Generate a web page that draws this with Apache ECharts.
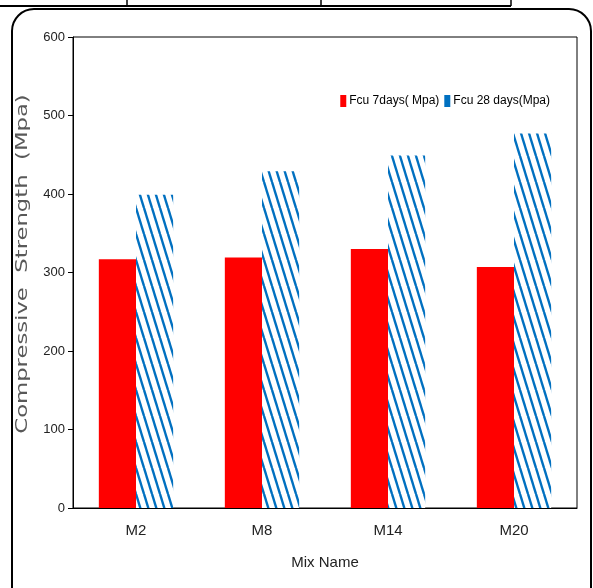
<!DOCTYPE html>
<html><head><meta charset="utf-8">
<script src="https://cdn.jsdelivr.net/npm/echarts@6/dist/echarts.min.js"></script>
<style>html,body{margin:0;padding:0;background:#fff}#c{width:593px;height:588px}</style>
</head><body><div id="c"></div>
<script>
var categories = ['M2', 'M8', 'M14', 'M20'];
var fcu7 = [317, 319, 330, 307];
var fcu28 = [399, 429, 449, 477];
var seriesNames = ['Fcu 7days( Mpa)', 'Fcu 28 days(Mpa)'];
var yTitle = 'Compressive  Strength  (Mpa)';
var xTitle = 'Mix Name';

function stripePattern() {
  var w = 8, h = 26;
  var cv = document.createElement('canvas');
  cv.width = w; cv.height = h;
  var ctx = cv.getContext('2d');
  ctx.fillStyle = '#ffffff';
  ctx.fillRect(0, 0, w, h);
  ctx.strokeStyle = '#0070C0';
  ctx.lineWidth = 2.4;
  for (var k = -1; k <= 1; k++) {
    ctx.beginPath();
    ctx.moveTo(k * w, 0);
    ctx.lineTo(k * w + w, h);
    ctx.stroke();
  }
  return cv;
}
var pat = stripePattern();
var narrow = "'Liberation Sans Narrow', 'Arial Narrow', 'Liberation Sans', sans-serif";

var chart = echarts.init(document.getElementById('c'));
chart.setOption({
  animation: false,
  grid: { left: 73, right: 16, top: 37, bottom: 80, show: true, borderColor: '#000', borderWidth: 1 },
  legend: {
    top: 90, right: 38, itemWidth: 6, itemHeight: 12, itemGap: 5,
    textStyle: { fontFamily: narrow, fontSize: 12, color: '#000', padding: [0, 0, 0, -2] },
    data: [
      { name: seriesNames[0], icon: 'rect' },
      { name: seriesNames[1], icon: 'rect', itemStyle: { color: '#0070C0' } }
    ]
  },
  xAxis: {
    type: 'category', data: categories,
    name: xTitle, nameLocation: 'middle', nameGap: 47,
    nameTextStyle: { fontFamily: narrow, fontSize: 15, color: '#222' },
    axisLine: { lineStyle: { color: '#000' } },
    axisTick: { show: false },
    axisLabel: { fontFamily: narrow, fontSize: 15, color: '#222', margin: 15 }
  },
  yAxis: {
    type: 'value', min: 0, max: 600, interval: 100,
    axisLine: { show: true, lineStyle: { color: '#000' } },
    axisTick: { show: true, length: 5, lineStyle: { color: '#000' } },
    axisLabel: { fontFamily: narrow, fontSize: 13, color: '#222', margin: 8 },
    splitLine: { show: false }
  },
  series: [
    { name: seriesNames[0], type: 'bar', data: fcu7, barWidth: '29.5%', barGap: '0%',
      itemStyle: { color: '#FF0000' } },
    { name: seriesNames[1], type: 'bar', data: fcu28, barWidth: '29.5%', barGap: '0%',
      itemStyle: { color: { image: pat, repeat: 'repeat' } } }
  ],
  graphic: [
    { type: 'text', x: 23, y: 264, rotation: Math.PI / 2, scaleX: 1.42,
      style: { text: yTitle, fontFamily: "'DejaVu Sans', sans-serif", fontSize: 16, fill: '#595959',
               align: 'center', verticalAlign: 'middle' }, z: 50 },
    { type: 'rect', shape: { x: 12, y: 9, width: 579, height: 600, r: 22 },
      style: { fill: 'none', stroke: '#000', lineWidth: 2 }, z: 100 },
    { type: 'line', shape: { x1: 0, y1: 6, x2: 511, y2: 6 }, style: { stroke: '#000', lineWidth: 2 }, z: 100 },
    { type: 'line', shape: { x1: 127, y1: 0, x2: 127, y2: 6 }, style: { stroke: '#000', lineWidth: 1.5 }, z: 100 },
    { type: 'line', shape: { x1: 321, y1: 0, x2: 321, y2: 6 }, style: { stroke: '#000', lineWidth: 1.5 }, z: 100 },
    { type: 'line', shape: { x1: 511, y1: 0, x2: 511, y2: 6 }, style: { stroke: '#000', lineWidth: 1.5 }, z: 100 }
  ]
});
</script></body></html>
